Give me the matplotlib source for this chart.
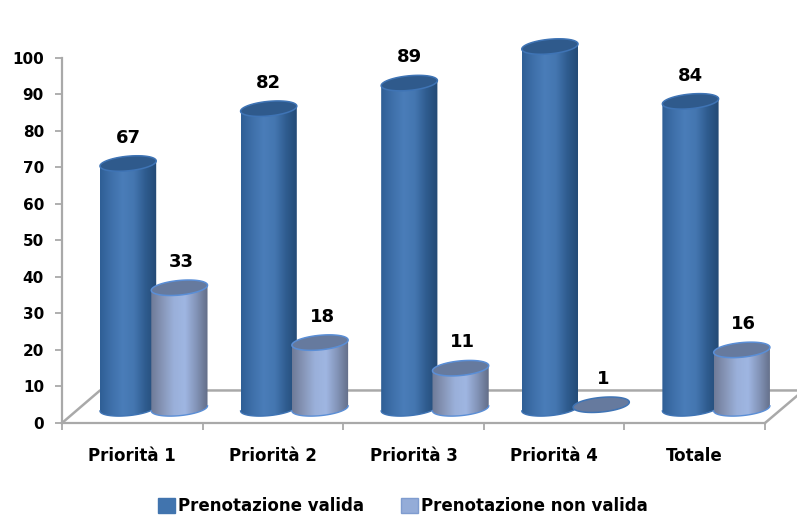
import numpy as np
import matplotlib
matplotlib.use('Agg')
import matplotlib.pyplot as plt
from matplotlib.colors import LinearSegmentedColormap
from matplotlib.patches import Patch, Polygon

categorie = ['Priorità 1', 'Priorità 2', 'Priorità 3', 'Priorità 4', 'Totale']
valida = [67, 82, 89, 99, 84]
non_valida = [33, 18, 11, 1, 16]
tick_y = [0, 10, 20, 30, 40, 50, 60, 70, 80, 90, 100]

W, H = 797, 517
GRIGIO = '#a9a9a9'
BASE = 4.0      # la base dei cilindri sta sopra lo zero (effetto 3D)
LARG = 0.2      # semi larghezza cilindro
B = 2.0         # semi altezza ellisse
K = 0.7         # inclinazione ellisse

cmap_scuro = LinearSegmentedColormap.from_list('scuro', ['#2f5f96', '#3f70aa', '#4a7db9', '#4476b0', '#2f5c8f', '#234a75'])
cmap_chiaro = LinearSegmentedColormap.from_list('chiaro', ['#6f7b98', '#8796b8', '#9ab0da', '#9fb6e2', '#8394b8', '#636e88'])

fig = plt.figure(figsize=(W / 100, H / 100), dpi=100)
ax = fig.add_axes([62 / W, 1 - 423 / H, (765 - 62) / W, (423 - 57.5) / H])


def ellisse(cx, cy, t):
    return np.column_stack([cx + LARG * np.cos(t), cy + B * np.sin(t) + K * np.cos(t)])


def cilindro(cx, v, cmap, col_top, col_bordo, z):
    top = BASE + v
    if v > 1:
        sotto = ellisse(cx, BASE, np.linspace(np.pi, 2 * np.pi, 40))
        sopra = ellisse(cx, top, np.linspace(0, np.pi, 40))
        corpo = Polygon(np.vstack([sotto, sopra]), closed=True, transform=ax.transData, fc='none', ec='none')
        ax.add_patch(corpo)
        grad = np.linspace(0, 1, 100).reshape(1, -1)
        im = ax.imshow(grad, cmap=cmap, aspect='auto', zorder=z, interpolation='bilinear',
                       extent=[cx - LARG, cx + LARG, BASE - B - K, top + B + K])
        im.set_clip_box(fig.bbox)
        im.set_clip_path(corpo)
        ax.plot(sotto[:, 0], sotto[:, 1], color=col_bordo, lw=1, zorder=z + 0.1, clip_on=False)
    cap = Polygon(ellisse(cx, top, np.linspace(0, 2 * np.pi, 80)), closed=True,
                  fc=col_top, ec=col_bordo, lw=1.1, zorder=z + 0.2, clip_on=False)
    ax.add_patch(cap)


# pavimento del grafico
ax.plot([-0.5, -0.23, 4.73], [0, 8.9, 8.9], color=GRIGIO, lw=1.8, zorder=1, clip_on=False)
ax.plot([4.5, 4.73], [0, 7.5], color=GRIGIO, lw=1.8, zorder=1, clip_on=False)

for i, v in enumerate(valida):
    cilindro(i - 0.03, v, cmap_scuro, '#2f5a8c', '#3f74b5', 3)
    ax.annotate(str(v), (i - 0.03, BASE + v), xytext=(0, 18.5), textcoords='offset points',
                ha='center', va='center', fontsize=13, fontweight='bold', color='black')

for i, v in enumerate(non_valida):
    cilindro(i + 0.335, v, cmap_chiaro, '#667a9e', '#5a8ed6' if v > 1 else '#3f74b5', 4)
    ax.annotate(str(v), (i + 0.35, BASE + v), xytext=(0, 18.5), textcoords='offset points',
                ha='center', va='center', fontsize=13, fontweight='bold', color='black')

ax.set_xlim(-0.5, 4.5)
ax.set_ylim(0, 100)
ax.set_yticks(tick_y)
ax.set_xticks(np.arange(5))
ax.set_xticklabels(categorie, fontsize=12, fontweight='bold')
ax.set_xticks(np.arange(-0.5, 5), minor=True)
ax.tick_params(axis='x', which='major', length=0, pad=17)
ax.tick_params(axis='x', which='minor', length=5, width=1.3, color=GRIGIO)
ax.tick_params(axis='y', length=5, width=1.3, color=GRIGIO, pad=8)
for lab in ax.get_yticklabels():
    lab.set_fontsize(11)
    lab.set_fontweight('bold')

ax.patch.set_visible(False)
ax.spines['top'].set_visible(False)
ax.spines['right'].set_visible(False)
for s in ['left', 'bottom']:
    ax.spines[s].set_color(GRIGIO)
    ax.spines[s].set_linewidth(1.6)

handles = [Patch(fc='#4174ae', ec='#4174ae'), Patch(fc='#94acd8', ec='#7f9ccf')]
fig.legend(handles, ['Prenotazione valida', 'Prenotazione non valida'], ncol=2, frameon=False,
           loc='center', bbox_to_anchor=(403 / W, 1 - 506 / H), prop={'size': 12, 'weight': 'bold'},
           handlelength=1.0, handleheight=1.0, handletextpad=0.2, columnspacing=2.2,
           borderpad=0, borderaxespad=0)

fig.savefig('out.png', dpi=100)
